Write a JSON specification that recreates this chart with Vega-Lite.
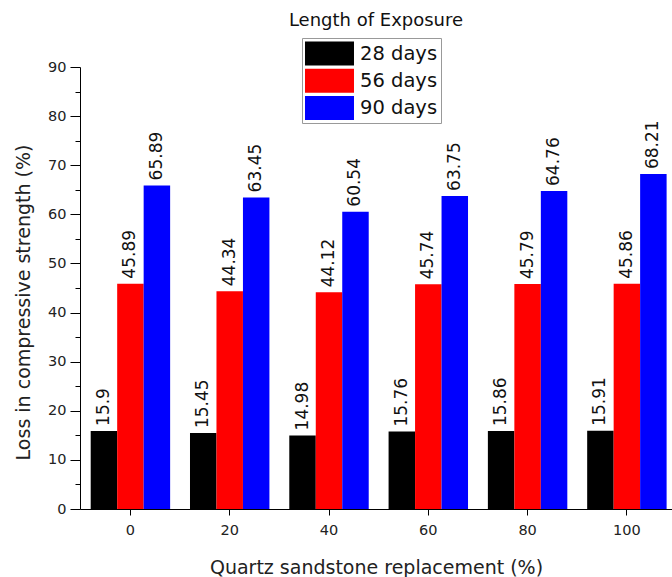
{
  "$schema": "https://vega.github.io/schema/vega-lite/v6.json",
  "autosize": "none",
  "padding": {"left": 80, "top": 67, "right": 0, "bottom": 68},
  "width": 592,
  "height": 442,
  "background": "white",
  "title": {"text": "Length of  Exposure", "frame": "group", "anchor": "middle", "font": "DejaVu Sans", "fontSize": 18, "fontWeight": "normal", "color": "#111", "offset": 8},
  "config": {"view": {"stroke": null}, "font": "DejaVu Sans"},
  "data": {"values": [
    {"replacement": 0, "series": "28 days", "loss": 15.9},
    {"replacement": 0, "series": "56 days", "loss": 45.89},
    {"replacement": 0, "series": "90 days", "loss": 65.89},
    {"replacement": 20, "series": "28 days", "loss": 15.45},
    {"replacement": 20, "series": "56 days", "loss": 44.34},
    {"replacement": 20, "series": "90 days", "loss": 63.45},
    {"replacement": 40, "series": "28 days", "loss": 14.98},
    {"replacement": 40, "series": "56 days", "loss": 44.12},
    {"replacement": 40, "series": "90 days", "loss": 60.54},
    {"replacement": 60, "series": "28 days", "loss": 15.76},
    {"replacement": 60, "series": "56 days", "loss": 45.74},
    {"replacement": 60, "series": "90 days", "loss": 63.75},
    {"replacement": 80, "series": "28 days", "loss": 15.86},
    {"replacement": 80, "series": "56 days", "loss": 45.79},
    {"replacement": 80, "series": "90 days", "loss": 64.76},
    {"replacement": 100, "series": "28 days", "loss": 15.91},
    {"replacement": 100, "series": "56 days", "loss": 45.86},
    {"replacement": 100, "series": "90 days", "loss": 68.21}
  ]},
  "encoding": {
    "x": {
      "field": "replacement", "type": "ordinal",
      "scale": {"paddingInner": 0.2, "paddingOuter": 0.081, "align": 0.665},
      "axis": {
        "title": "Quartz sandstone replacement (%)", "labelAngle": 0,
        "domainColor": "#000", "tickColor": "#000", "tickSize": 6,
        "labelFont": "DejaVu Sans", "labelFontSize": 14.5, "labelColor": "#222", "labelPadding": 8,
        "titleFont": "DejaVu Sans", "titleFontSize": 19, "titleFontWeight": "normal", "titleColor": "#222", "titlePadding": 22
      }
    },
    "xOffset": {"field": "series", "type": "nominal", "scale": {"paddingInner": 0, "paddingOuter": 0}},
    "y": {
      "field": "loss", "type": "quantitative",
      "scale": {"domain": [0, 90], "nice": false},
      "axis": {
        "title": "Loss in compressive strength (%)",
        "values": [0, 5, 10, 15, 20, 25, 30, 35, 40, 45, 50, 55, 60, 65, 70, 75, 80, 85, 90],
        "labelExpr": "datum.value % 10 === 0 ? datum.label : ''",
        "grid": false,
        "domainColor": "#000", "tickColor": "#000",
        "tickSize": {"condition": {"test": "datum.value % 10 === 0", "value": 10}, "value": 5},
        "labelFont": "DejaVu Sans", "labelFontSize": 14.5, "labelColor": "#222", "labelPadding": 4,
        "titleFont": "DejaVu Sans", "titleFontSize": 19, "titleFontWeight": "normal", "titleColor": "#222", "titlePadding": 14,
        "titleY": 235
      }
    }
  },
  "layer": [
    {
      "mark": {"type": "bar"},
      "encoding": {
        "color": {
          "field": "series", "type": "nominal",
          "scale": {"domain": ["28 days", "56 days", "90 days"], "range": ["#000000", "#ff0000", "#0000ff"]},
          "legend": {
            "orient": "none", "legendX": 222, "legendY": -29, "title": null,
            "symbolType": "M-2,-0.98H2V0.98H-2Z", "symbolSize": 600, "symbolStrokeWidth": 0, "symbolOpacity": 1,
            "symbolOffset": 12,
            "labelFont": "DejaVu Sans", "labelFontSize": 19.5, "labelColor": "#111", "labelOffset": 18,
            "labelExpr": "datum.label + '\u00a0\u00a0'",
            "padding": 3, "strokeColor": "#999", "fillColor": "white", "rowPadding": 2.2
          }
        }
      }
    },
    {
      "mark": {"type": "text", "angle": 270, "align": "left", "baseline": "middle", "dx": 5, "font": "DejaVu Sans", "fontSize": 17, "color": "#111"},
      "encoding": {
        "text": {"field": "loss", "type": "nominal"}
      }
    }
  ]
}
